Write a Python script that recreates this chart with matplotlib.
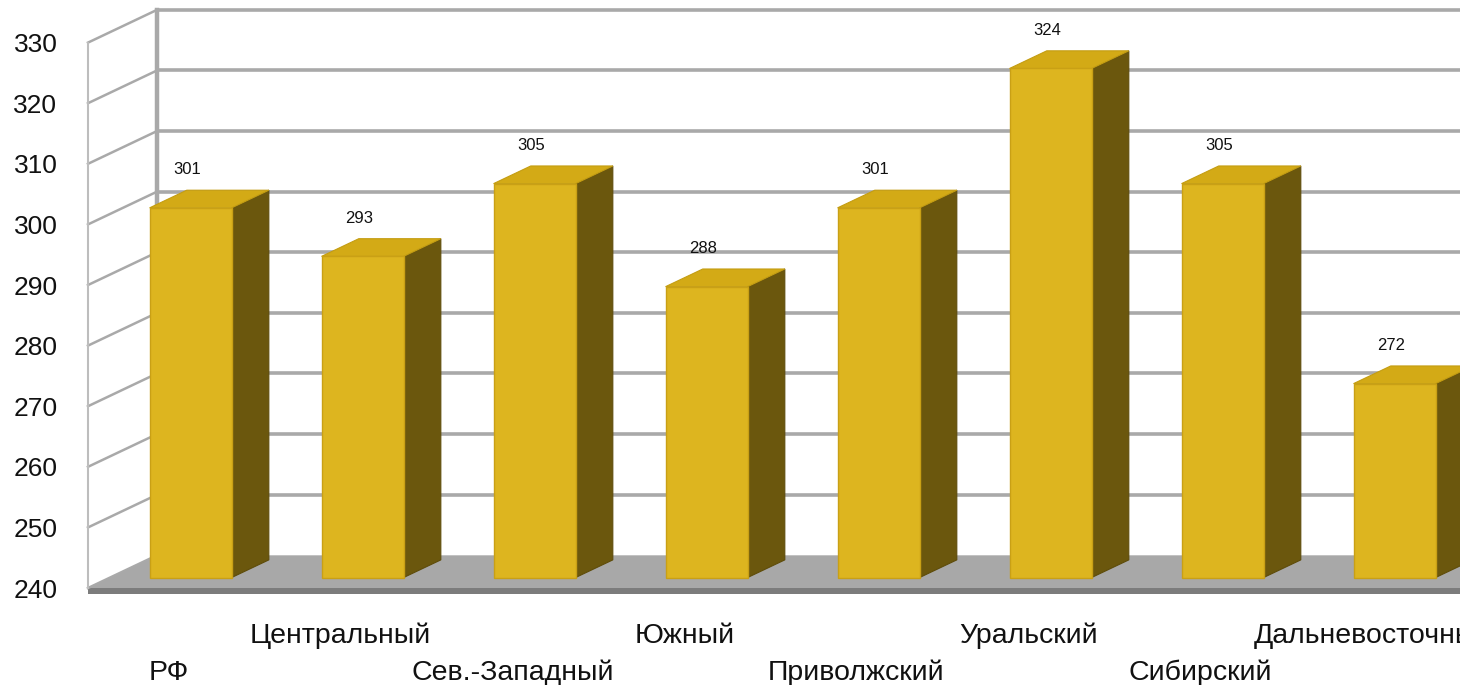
import matplotlib.pyplot as plt
from matplotlib.patches import Polygon

# data
regions = ['РФ', 'Центральный', 'Сев.-Западный', 'Южный', 'Приволжский',
           'Уральский', 'Сибирский', 'Дальневосточный']
values = [301, 293, 305, 288, 301, 324, 305, 272]
y_ticks = list(range(240, 331, 10))

plt.rcParams['font.family'] = ['Liberation Sans', 'DejaVu Sans']

fig = plt.figure(figsize=(14.6, 6.85), dpi=100)
ax = fig.add_axes([88 / 1460, 0, 1372 / 1460, 1])
ax.set_xlim(-0.468, 7.509)
ax.set_ylim(224.0, 337.03)

# fake 3d box: depth offset in data units
DX, DY = 0.401, 5.4
x0 = ax.get_xlim()[0]
far = 9.5
base, top = y_ticks[0], y_ticks[-1]
grid_col = '#a9a9a9'

# floor
floor = Polygon([(x0, base), (x0 + DX, base + DY), (far, base + DY), (far, base)],
                closed=True, facecolor='#a8a8a8', edgecolor='none', zorder=1, clip_on=False)
ax.add_patch(floor)
strip = Polygon([(x0, base), (far, base), (far, base - 1.0), (x0, base - 1.0)],
                closed=True, facecolor='#7c7c7c', edgecolor='none', zorder=1, clip_on=False)
ax.add_patch(strip)

# back wall gridlines and left wall diagonals
for v in y_ticks:
    if v > base:
        ax.plot([x0 + DX, far], [v + DY, v + DY], color=grid_col, lw=2.6, zorder=1,
                clip_on=False, solid_capstyle='butt')
    ax.plot([x0, x0 + DX], [v, v + DY], color=grid_col, lw=1.8, zorder=1, clip_on=False)
ax.plot([x0, x0], [base, top], color='#bdbdbd', lw=1.5, zorder=1, clip_on=False)
ax.plot([x0 + DX, x0 + DX], [base + DY, top + DY], color=grid_col, lw=3.2, zorder=1,
        clip_on=False)

# bars
w = 0.477
d0, d1 = 0.32, 0.86
ddx, ddy = (d1 - d0) * DX, (d1 - d0) * DY
for i, v in enumerate(values):
    xl = i - w / 2 + d0 * DX
    xr = xl + w
    yb = base + d0 * DY
    yt = v + d0 * DY
    side = Polygon([(xr, yb), (xr + ddx, yb + ddy), (xr + ddx, yt + ddy), (xr, yt)],
                   closed=True, facecolor='#6b570d', edgecolor='#5e4c0a', lw=0.8,
                   zorder=3, clip_on=False)
    topf = Polygon([(xl, yt), (xr, yt), (xr + ddx, yt + ddy), (xl + ddx, yt + ddy)],
                   closed=True, facecolor='#d3aa16', edgecolor='#c49d12', lw=0.8,
                   zorder=3, clip_on=False)
    front = Polygon([(xl, yb), (xr, yb), (xr, yt), (xl, yt)],
                    closed=True, facecolor='#ddb51f', edgecolor='#c9a015', lw=1.0,
                    zorder=4, clip_on=False)
    ax.add_patch(side)
    ax.add_patch(topf)
    ax.add_patch(front)
    ax.text(i + 0.11, v + d0 * DY + 6.3, str(v), ha='center', va='center',
            fontsize=12, color='#111111', zorder=5)

# category labels in two staggered rows (last one runs off the edge, as in the source)
for i, name in enumerate(regions):
    y = 230.9 if i % 2 else 224.8
    ax.text(i, y, name, ha='center', va='baseline', fontsize=20.5, color='#111111')

ax.set_yticks(y_ticks)
ax.set_yticklabels([str(t) for t in y_ticks])
ax.tick_params(axis='y', length=0, pad=22, labelsize=19, labelcolor='#111111')
ax.set_xticks([])
for s in ax.spines.values():
    s.set_visible(False)

fig.savefig('out.png', dpi=100)
